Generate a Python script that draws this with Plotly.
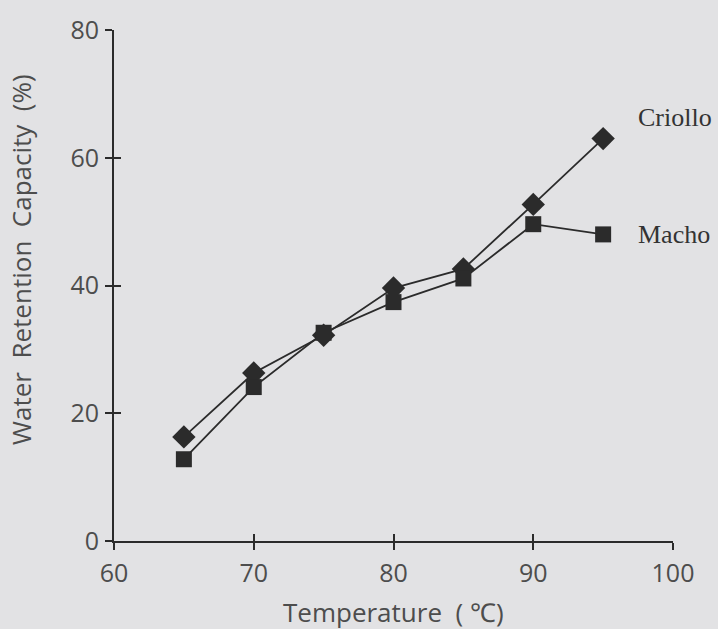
import plotly.graph_objects as go

temperature = [65, 70, 75, 80, 85, 90, 95]
criollo = [16.3, 26.3, 32.2, 39.6, 42.6, 52.7, 63.0]
macho = [12.8, 24.1, 32.6, 37.4, 41.1, 49.6, 48.0]

x_ticks = [60, 70, 80, 90, 100]
y_ticks = [0, 20, 40, 60, 80]

BG = "#e2e2e4"
INK = "#2b2b2b"
TXT = "#4d4d4d"
SANS = "Open Sans"
SERIF = "Liberation Serif"

fig = go.Figure()
fig.add_trace(go.Scatter(x=temperature, y=criollo, mode="lines+markers", name="Criollo",
                         line=dict(color=INK, width=1.8),
                         marker=dict(symbol="diamond", size=18, color=INK)))
fig.add_trace(go.Scatter(x=temperature, y=macho, mode="lines+markers", name="Macho",
                         line=dict(color=INK, width=1.8),
                         marker=dict(symbol="square", size=16, color=INK)))
# empty trace to create overlay axes for crossing tick marks
fig.add_trace(go.Scatter(x=[], y=[], xaxis="x2", yaxis="y2", showlegend=False, hoverinfo="skip"))

axis_common = dict(showgrid=False, zeroline=False, tickcolor=INK, tickwidth=2, ticklen=7)

fig.update_layout(
    width=718, height=629,
    margin=dict(l=114, r=45, t=30, b=88),
    paper_bgcolor=BG, plot_bgcolor=BG,
    showlegend=False,
    xaxis=dict(range=[60, 100], tickvals=x_ticks, ticks="outside", showline=True,
               linecolor=INK, linewidth=2,
               tickfont=dict(family=SANS, size=25, color=TXT), ticklabelstandoff=2,
               **axis_common),
    yaxis=dict(range=[0, 80], tickvals=y_ticks, ticks="outside", showline=True,
               linecolor=INK, linewidth=2,
               tickfont=dict(family=SANS, size=25, color=TXT), ticklabelstandoff=1,
               **axis_common),
    xaxis2=dict(range=[60, 100], tickvals=x_ticks, ticks="inside", overlaying="x",
                showticklabels=False, showline=False, **axis_common),
    yaxis2=dict(range=[0, 80], tickvals=y_ticks, ticks="inside", overlaying="y",
                showticklabels=False, showline=False, **axis_common),
)

fig.add_annotation(text="Temperature\u00a0\u00a0( ℃)", xref="paper", yref="paper", x=0.5, y=0,
                   yshift=-71, xanchor="center", yanchor="middle", showarrow=False,
                   font=dict(family=SANS, size=26, color=TXT))
fig.add_annotation(text="Water\u00a0\u00a0Retention\u00a0\u00a0Capacity\u00a0\u00a0(%)", xref="paper", yref="paper",
                   x=0, xshift=-93, y=(541 - 260) / 511, textangle=-90,
                   xanchor="center", yanchor="middle", showarrow=False,
                   font=dict(family=SANS, size=26, color=TXT))

fig.add_annotation(text="Criollo", x=temperature[-1], y=criollo[-1], xshift=33, yshift=21,
                   xanchor="left", yanchor="middle", showarrow=False,
                   font=dict(family=SERIF, size=26, color="#333333"))
fig.add_annotation(text="Macho", x=temperature[-1], y=macho[-1], xshift=33, yshift=0,
                   xanchor="left", yanchor="middle", showarrow=False,
                   font=dict(family=SERIF, size=26, color="#333333"))

fig.write_html("out.html", config={"displayModeBar": False},
               post_script="document.body.style.margin='0';document.body.style.background='#e2e2e4';document.body.style.overflow='hidden';")
